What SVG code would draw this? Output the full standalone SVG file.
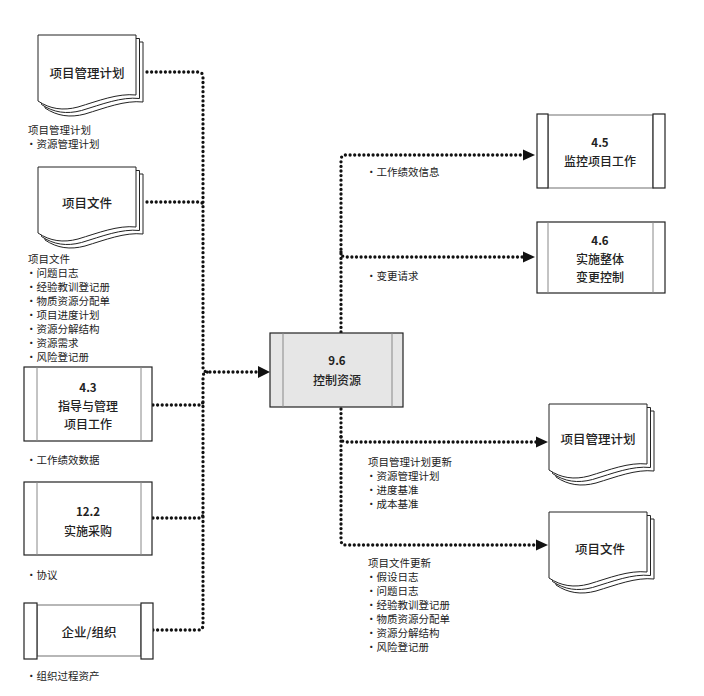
<svg xmlns="http://www.w3.org/2000/svg" width="704" height="696" viewBox="0 0 704 696">
<style>
text{font-family:"Noto Sans CJK SC","Noto Sans",sans-serif;fill:#222}
.nl{font-size:12.5px;font-weight:500;text-anchor:middle;dominant-baseline:central}
.ml{font-size:12px;font-weight:500;text-anchor:middle;dominant-baseline:central}
.num{font-size:11.5px;font-weight:bold;text-anchor:middle;dominant-baseline:central}
.lb{font-size:10.5px;dominant-baseline:central}
.page{fill:#fff;stroke:#222;stroke-width:1}
.box{fill:#fff;stroke:#222;stroke-width:1.2}
.inner{stroke:#888;stroke-width:1;fill:none}
.dot{fill:none;stroke:#111;stroke-width:3.3;stroke-dasharray:0 4.6;stroke-linecap:round}
</style>
<defs>
<path id="docpage" d="M0,0 H98 V60 C80,58 60,66 40,72 C25,76 12,74 0,66 Z"/>
</defs>
<rect width="704" height="696" fill="#fff"/>

<g id="connectors">
<path class="dot" d="M147,72 H198 Q203,72 203,77 V367 Q203,372 208,372 H258"/>
<path class="dot" d="M147,202 H199 Q203,202 203,206"/>
<path class="dot" d="M153,405 H199 Q203,405 203,401"/>
<path class="dot" d="M153,518 H199 Q203,518 203,514"/>
<path class="dot" d="M153,630 H198 Q203,630 203,625 V377 Q203,372 208,372"/>
<path d="M258,366 L270,372 L258,378 Z" fill="#111"/>
<path class="dot" d="M341,332 V160 Q341,155 346,155 H524"/>
<path d="M523,149.5 L535,155 L523,160.5 Z" fill="#111"/>
<path class="dot" d="M341,252 Q341,257 346,257 H524"/>
<path d="M523,251.5 L535,257 L523,262.5 Z" fill="#111"/>
<path class="dot" d="M341,409 V540 Q341,545 346,545 H536"/>
<path d="M536,539.5 L548,545 L536,550.5 Z" fill="#111"/>
<path class="dot" d="M341,437 Q341,442 346,442 H536"/>
<path d="M536,436.5 L548,442 L536,447.5 Z" fill="#111"/>
</g>

<g id="doc-pmp-in">
<use href="#docpage" class="page" transform="translate(45,42)"/>
<use href="#docpage" class="page" transform="translate(41.5,38.5)"/>
<use href="#docpage" class="page" transform="translate(38,35)"/>
<text class="nl" x="87" y="72">项目管理计划</text>
</g>
<g id="label-pmp-in">
<text class="lb" x="28" y="129">项目管理计划</text>
<text class="lb" x="26" y="143">•资源管理计划</text>
</g>

<g id="doc-pd-in">
<use href="#docpage" class="page" transform="translate(45,174)"/>
<use href="#docpage" class="page" transform="translate(41.5,170.5)"/>
<use href="#docpage" class="page" transform="translate(38,167)"/>
<text class="nl" x="87" y="202">项目文件</text>
</g>
<g id="label-pd-in">
<text class="lb" x="28" y="258">项目文件</text>
<text class="lb" x="26" y="272">•问题日志</text>
<text class="lb" x="26" y="286">•经验教训登记册</text>
<text class="lb" x="26" y="300">•物质资源分配单</text>
<text class="lb" x="26" y="314">•项目进度计划</text>
<text class="lb" x="26" y="328">•资源分解结构</text>
<text class="lb" x="26" y="342">•资源需求</text>
<text class="lb" x="26" y="356">•风险登记册</text>
</g>

<g id="node-43">
<rect class="box" x="24" y="367" width="128" height="74"/>
<line class="inner" x1="37" y1="367" x2="37" y2="441"/>
<line class="inner" x1="141" y1="367" x2="141" y2="441"/>
<text class="num" x="88" y="387">4.3</text>
<text class="ml" x="88" y="405">指导与管理</text>
<text class="ml" x="88" y="423">项目工作</text>
</g>
<g id="label-43">
<text class="lb" x="26" y="459">•工作绩效数据</text>
</g>

<g id="node-122">
<rect class="box" x="24" y="482" width="128" height="73"/>
<line class="inner" x1="37" y1="482" x2="37" y2="555"/>
<line class="inner" x1="141" y1="482" x2="141" y2="555"/>
<text class="num" x="88" y="511">12.2</text>
<text class="ml" x="88" y="530">实施采购</text>
</g>
<g id="label-122">
<text class="lb" x="26" y="574">•协议</text>
</g>

<g id="node-eef">
<rect class="box" x="37" y="605" width="104" height="51" style="stroke:#888"/>
<rect class="box" x="24" y="603" width="13" height="56"/>
<rect class="box" x="141" y="603" width="12" height="56"/>
<text class="nl" x="89" y="631">企业/组织</text>
</g>
<g id="label-eef">
<text class="lb" x="26" y="675">•组织过程资产</text>
</g>

<g id="node-96">
<rect class="box" x="270" y="333" width="133" height="74" style="fill:#e6e6e6"/>
<line class="inner" x1="283" y1="333" x2="283" y2="407"/>
<line class="inner" x1="392" y1="333" x2="392" y2="407"/>
<text class="num" x="337" y="360">9.6</text>
<text class="ml" x="337" y="379">控制资源</text>
</g>

<g id="node-45">
<rect class="box" x="548" y="115" width="105" height="73" style="stroke:#888"/>
<rect class="box" x="537" y="114" width="11" height="74"/>
<rect class="box" x="653" y="114" width="12" height="74"/>
<text class="num" x="600" y="142">4.5</text>
<text class="ml" x="600" y="160">监控项目工作</text>
</g>
<g id="label-45">
<text class="lb" x="366" y="171">•工作绩效信息</text>
</g>

<g id="node-46">
<rect class="box" x="537" y="222" width="128" height="71"/>
<line class="inner" x1="548" y1="222" x2="548" y2="293"/>
<line class="inner" x1="653" y1="222" x2="653" y2="293"/>
<text class="num" x="600" y="240">4.6</text>
<text class="ml" x="600" y="258">实施整体</text>
<text class="ml" x="600" y="276">变更控制</text>
</g>
<g id="label-46">
<text class="lb" x="366" y="275">•变更请求</text>
</g>

<g id="doc-pmp-out">
<use href="#docpage" class="page" transform="translate(556,411)"/>
<use href="#docpage" class="page" transform="translate(552.5,407.5)"/>
<use href="#docpage" class="page" transform="translate(549,404)"/>
<text class="nl" x="598" y="438">项目管理计划</text>
</g>
<g id="label-pmp-out">
<text class="lb" x="368" y="461">项目管理计划更新</text>
<text class="lb" x="366" y="475">•资源管理计划</text>
<text class="lb" x="366" y="489">•进度基准</text>
<text class="lb" x="366" y="503">•成本基准</text>
</g>

<g id="doc-pd-out">
<use href="#docpage" class="page" transform="translate(556,519)"/>
<use href="#docpage" class="page" transform="translate(552.5,515.5)"/>
<use href="#docpage" class="page" transform="translate(549,512)"/>
<text class="nl" x="600" y="548">项目文件</text>
</g>
<g id="label-pd-out">
<text class="lb" x="368" y="562">项目文件更新</text>
<text class="lb" x="366" y="576">•假设日志</text>
<text class="lb" x="366" y="590">•问题日志</text>
<text class="lb" x="366" y="604">•经验教训登记册</text>
<text class="lb" x="366" y="618">•物质资源分配单</text>
<text class="lb" x="366" y="632">•资源分解结构</text>
<text class="lb" x="366" y="646">•风险登记册</text>
</g>
</svg>
